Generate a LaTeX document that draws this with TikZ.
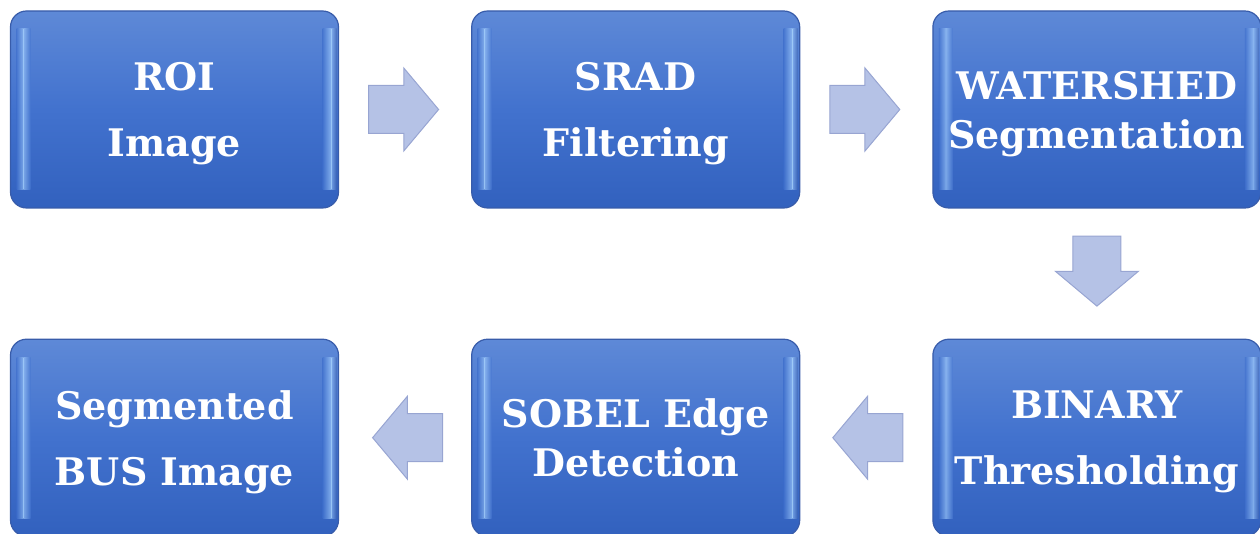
\documentclass[tikz,border=0pt]{standalone}
\usepackage{fontspec}
\setmainfont{DejaVu Serif}
\usetikzlibrary{positioning, shapes.arrows, calc}
\definecolor{boxtop}{RGB}{94,137,215}
\definecolor{boxmid}{RGB}{66,114,206}
\definecolor{boxbottom}{RGB}{50,97,190}
\definecolor{boxedge}{RGB}{56,92,170}
\definecolor{boxglow}{RGB}{165,208,255}
\definecolor{arrowfill}{RGB}{181,194,230}
\definecolor{arrowedge}{RGB}{152,165,210}
\tikzset{
node distance=65pt and 66pt, % gaps between the boxes (vertical and horizontal)
stepbox/.style={rectangle, rounded corners=8pt, minimum width=164pt, minimum height=98.5pt,
  inner sep=0pt, align=center, text=white, text depth=0pt, top color=boxtop, bottom color=boxbottom,
  middle color=boxmid, draw=boxedge, line width=0.6pt,
  font=\fontsize{19}{33}\selectfont\bfseries,
  path picture={
    \begin{scope}[sharp corners]
    \shade[left color=boxmid, right color=boxglow, opacity=.6]
      ($(path picture bounding box.north west)+(3pt,-9pt)$) rectangle ($(path picture bounding box.south west)+(6.5pt,9pt)$);
    \shade[left color=boxglow, right color=boxmid, opacity=.6]
      ($(path picture bounding box.north west)+(6.5pt,-9pt)$) rectangle ($(path picture bounding box.south west)+(10pt,9pt)$);
    \shade[left color=boxmid, right color=boxglow, opacity=.7]
      ($(path picture bounding box.north east)+(-8pt,-9pt)$) rectangle ($(path picture bounding box.south east)+(-3.5pt,9pt)$);
    \shade[left color=boxglow, right color=boxedge, opacity=.5]
      ($(path picture bounding box.north east)+(-3.5pt,-9pt)$) rectangle ($(path picture bounding box.south east)+(-1pt,9pt)$);
    \end{scope}
  }}, % the glossy blue boxes
tightbox/.style={stepbox, font=\fontsize{19}{24.5}\selectfont\bfseries},
flowarrow/.style={single arrow, single arrow head extend=8.75pt, single arrow tip angle=100,
  minimum height=35pt, inner xsep=0pt, inner ysep=11.75pt, anchor=tail,
  fill=arrowfill, draw=arrowedge, line width=0.5pt}, % the block arrows
}

\begin{document}
\begin{tikzpicture}[x=0.5pt, y=-0.5pt]
    \useasboundingbox (0,0) rectangle (1260,534);

    \node[stepbox] (roi) at (174.5,109.5) {ROI\\Image};
    \node[stepbox, right=of roi] (srad) {SRAD\\Filtering};
    \node[tightbox, right=of srad] (water) {WATERSHED\\Segmentation};
    \node[stepbox, below=of water] (binary) {BINARY\\Thresholding};
    \node[tightbox, left=of binary] (sobel) {SOBEL Edge\\Detection};
    \node[stepbox, left=of sobel] (result) {Segmented\\BUS Image};

    % arrows sit halfway between the boxes, tail first
    \node[flowarrow] (a1) at ($(roi.east)!.5!(srad.west)+(-18.5pt,0)$) {};
    \node[flowarrow] (a2) at ($(srad.east)!.5!(water.west)+(-18.5pt,0)$) {};
    \node[flowarrow, rotate=270] (a3) at ($(water.south)!.5!(binary.north)+(0,19pt)$) {};
    \node[flowarrow, rotate=180] (a4) at ($(binary.west)!.5!(sobel.east)+(18.5pt,0)$) {};
    \node[flowarrow, rotate=180] (a5) at ($(sobel.west)!.5!(result.east)+(19pt,0)$) {};
\end{tikzpicture}
\end{document}
